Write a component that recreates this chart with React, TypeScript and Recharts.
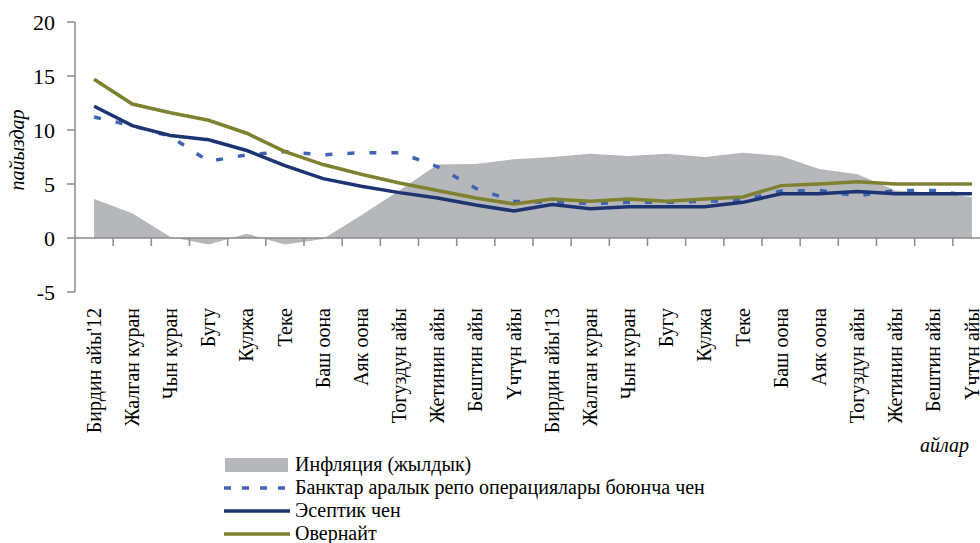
import React from 'react';
import {
  ComposedChart,
  Area,
  Line,
  XAxis,
  YAxis,
  Legend,
  Label,
  ReferenceLine
} from 'recharts';

const months = [
  "Бирдин айы'12", 'Жалган куран', 'Чын куран', 'Бугу', 'Кулжа', 'Теке',
  'Баш оона', 'Аяк оона', 'Тогуздун айы', 'Жетинин айы', 'Бештин айы', 'Үчтүн айы',
  "Бирдин айы'13", 'Жалган куран', 'Чын куран', 'Бугу', 'Кулжа', 'Теке',
  'Баш оона', 'Аяк оона', 'Тогуздун айы', 'Жетинин айы', 'Бештин айы', 'Үчтүн айы'
];

// инфляция (жылдык), %
const inflation = [3.6, 2.3, 0.1, -0.6, 0.4, -0.6, -0.1, 2.1, 4.4, 6.8, 6.85, 7.3,
  7.5, 7.8, 7.6, 7.8, 7.5, 7.9, 7.6, 6.4, 5.9, 4.4, 4.2, 3.8];
// банктар аралык репо
const repo = [11.2, 10.4, 9.4, 7.1, 7.7, 8.0, 7.7, 7.9, 7.9, 6.6, 4.6, 3.4,
  3.3, 3.2, 3.3, 3.3, 3.4, 3.5, 4.35, 4.4, 3.9, 4.4, 4.4, 3.9];
// эсептик чен
const refi = [12.2, 10.4, 9.5, 9.1, 8.1, 6.7, 5.5, 4.8, 4.2, 3.7, 3.05, 2.5,
  3.1, 2.7, 2.9, 2.9, 2.9, 3.3, 4.1, 4.1, 4.3, 4.1, 4.1, 4.1];
// овернайт
const overnight = [14.7, 12.4, 11.6, 10.9, 9.7, 8.0, 6.8, 5.9, 5.1, 4.4, 3.7, 3.15,
  3.6, 3.4, 3.6, 3.4, 3.6, 3.8, 4.85, 5.0, 5.2, 5.0, 5.0, 5.0];

const yTicks = [-5, 0, 5, 10, 15, 20];

const FONT = '"Liberation Serif", "Times New Roman", serif';
const AXIS = '#8a8a8a';
const GRAY = '#b5b7ba';
const BLUE = '#4064b4';
const NAVY = '#1d3472';
const OLIVE = '#7f8030';

const data = months.map((m, i) => ({
  idx: i,
  month: m,
  inflation: inflation[i],
  repo: repo[i],
  refi: refi[i],
  overnight: overnight[i]
}));

// tick marks sit between months
const bounds = months.map((_, i) => i + 0.5);

const MonthTick = (props: any) => {
  const { x, y, payload } = props;
  const ty = y + 16;
  return (
    <text
      x={x}
      y={ty}
      transform={`rotate(-90 ${x} ${ty})`}
      textAnchor="end"
      dy="0.33em"
      fontSize={20}
      fontFamily={FONT}
      fill="#000"
    >
      {months[payload.value]}
    </text>
  );
};

const legendItems = [
  { name: 'Инфляция (жылдык)', kind: 'area', color: GRAY },
  { name: 'Банктар аралык репо операциялары боюнча чен', kind: 'dash', color: BLUE },
  { name: 'Эсептик чен', kind: 'line', color: NAVY },
  { name: 'Овернайт', kind: 'line', color: OLIVE }
];

const renderLegend = () => (
  <div style={{ fontFamily: FONT, fontSize: 20, color: '#000' }}>
    {legendItems.map((it) => (
      <div key={it.name} style={{ display: 'flex', alignItems: 'center', height: 23, whiteSpace: 'nowrap' }}>
        <svg width={70} height={16}>
          {it.kind === 'area' ? (
            <rect x={3} y={1} width={63} height={14} fill={it.color} />
          ) : (
            <line
              x1={2}
              x2={68}
              y1={8}
              y2={8}
              stroke={it.color}
              strokeWidth={3.5}
              strokeDasharray={it.kind === 'dash' ? '7 11' : undefined}
            />
          )}
        </svg>
        <span style={{ marginLeft: 3 }}>{it.name}</span>
      </div>
    ))}
  </div>
);

export default function App() {
  return (
    <div style={{ position: 'absolute', left: 0, top: 0, width: 980, height: 543, overflow: 'hidden', background: '#fff' }}>
      <ComposedChart
        width={1000}
        height={543}
        data={data}
        margin={{ top: 22, right: 9, left: 0, bottom: 101 }}
      >
        <XAxis
          dataKey="idx"
          type="number"
          domain={[-0.5, 23.5]}
          ticks={data.map((d) => d.idx)}
          interval={0}
          height={150}
          axisLine={false}
          tickLine={false}
          tickSize={0}
          tickMargin={0}
          tick={<MonthTick />}
        >
          <Label
            content={(p: any) => (
              <text
                x={p.viewBox.x + p.viewBox.width - 71}
                y={p.viewBox.y + 160}
                fontSize={20}
                fontStyle="italic"
                fontFamily={FONT}
                fill="#000"
              >
                айлар
              </text>
            )}
          />
        </XAxis>
        <YAxis
          type="number"
          domain={[-5, 20]}
          ticks={yTicks}
          width={75}
          axisLine={{ stroke: AXIS, strokeWidth: 1.5 }}
          tickLine={{ stroke: AXIS, strokeWidth: 1.5 }}
          tickSize={8}
          tickMargin={12}
          tick={{ fontSize: 22, fontFamily: FONT, fill: '#000' }}
        >
          <Label
            content={(p: any) => {
              const cx = p.viewBox.x + 24;
              const cy = p.viewBox.y + p.viewBox.height / 2 - 7;
              return (
                <text
                  x={cx}
                  y={cy}
                  transform={`rotate(-90 ${cx} ${cy})`}
                  textAnchor="middle"
                  fontSize={20}
                  fontStyle="italic"
                  fontFamily={FONT}
                  fill="#000"
                >
                  пайыздар
                </text>
              );
            }}
          />
        </YAxis>
        <Area
          dataKey="inflation"
          name="Инфляция (жылдык)"
          type="linear"
          baseValue={0}
          stroke="none"
          fill={GRAY}
          fillOpacity={1}
          isAnimationActive={false}
        />
        <ReferenceLine y={0} stroke={AXIS} strokeWidth={1.5} />
        {bounds.map((b) => (
          <ReferenceLine
            key={b}
            segment={[{ x: b, y: 0 }, { x: b, y: -0.74 }]}
            stroke={AXIS}
            strokeWidth={1.5}
          />
        ))}
        <Line
          dataKey="repo"
          name="Банктар аралык репо операциялары боюнча чен"
          type="linear"
          stroke={BLUE}
          strokeWidth={3.5}
          strokeDasharray="7 15"
          dot={false}
          activeDot={false}
          isAnimationActive={false}
        />
        <Line
          dataKey="refi"
          name="Эсептик чен"
          type="linear"
          stroke={NAVY}
          strokeWidth={3.5}
          dot={false}
          activeDot={false}
          isAnimationActive={false}
        />
        <Line
          dataKey="overnight"
          name="Овернайт"
          type="linear"
          stroke={OLIVE}
          strokeWidth={3.5}
          dot={false}
          activeDot={false}
          isAnimationActive={false}
        />
        <Legend
          layout="vertical"
          align="center"
          verticalAlign="middle"
          content={renderLegend}
          wrapperStyle={{ left: 222, top: 453, width: 620 }}
        />
      </ComposedChart>
    </div>
  );
}
